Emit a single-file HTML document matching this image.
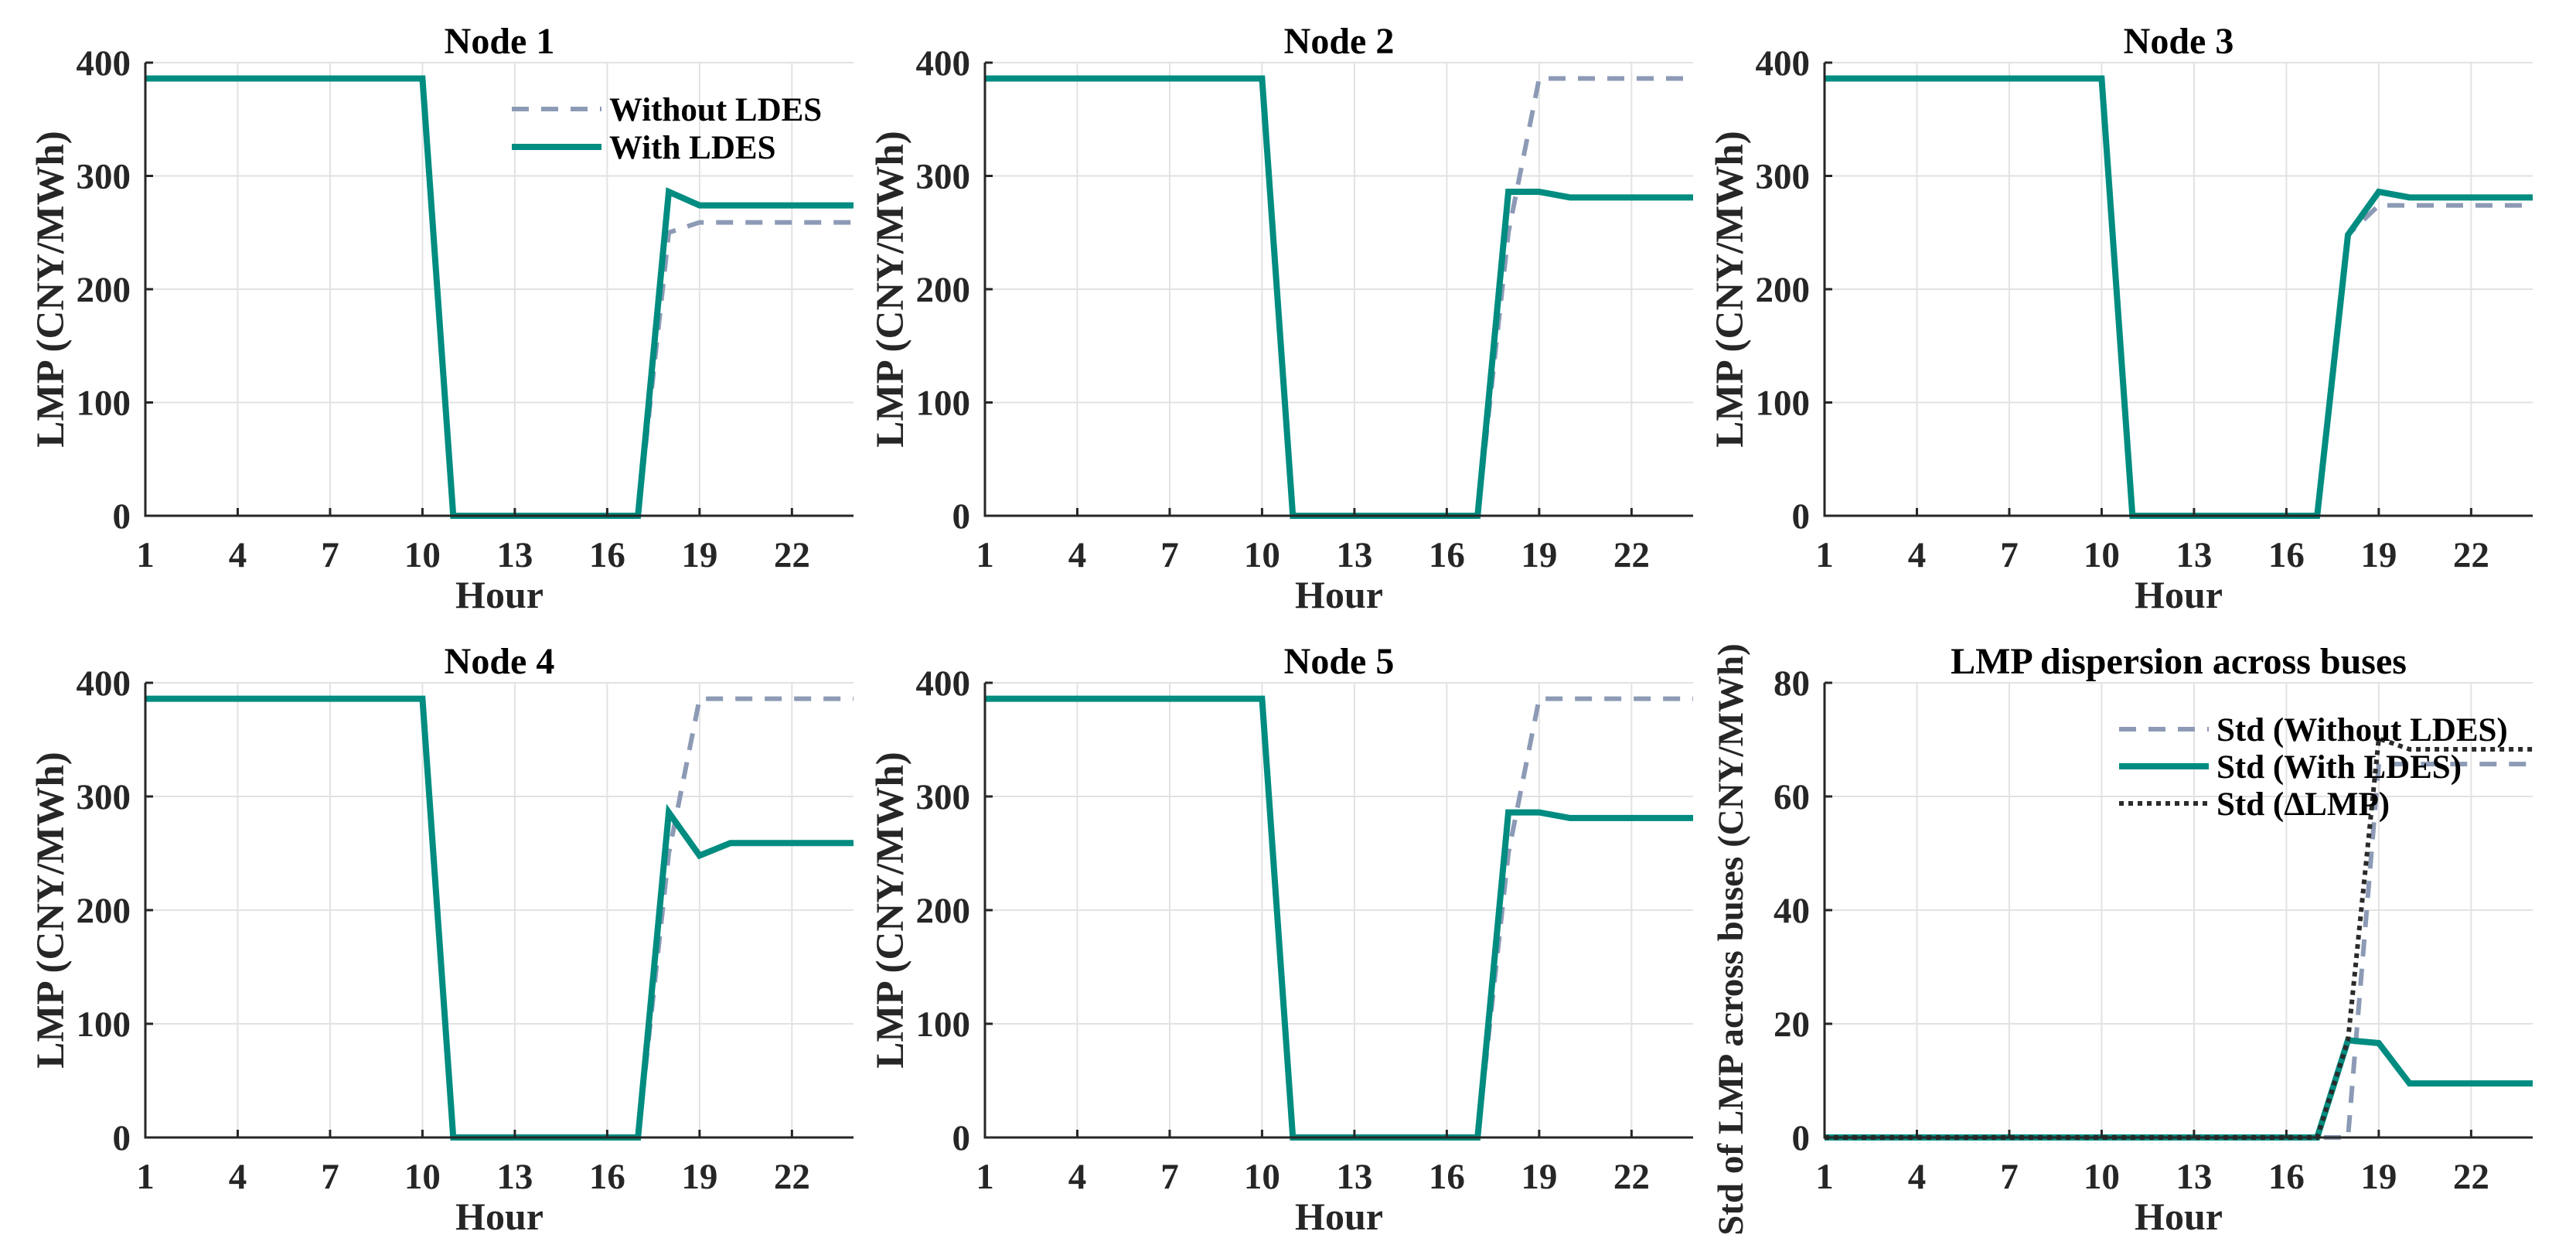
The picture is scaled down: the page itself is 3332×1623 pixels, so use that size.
<!DOCTYPE html>
<html><head><meta charset="utf-8">
<style>
html,body{margin:0;padding:0;background:#fff;}
svg{display:block;font-family:"Liberation Serif",serif;font-weight:bold;}
</style></head>
<body>
<svg id="fig" width="3332" height="1623" viewBox="0 0 3332 1623" xmlns="http://www.w3.org/2000/svg"></svg>
<script>
const hours = [1,2,3,4,5,6,7,8,9,10,11,12,13,14,15,16,17,18,19,20,21,22,23,24];
const xTicks = [1,4,7,10,13,16,19,22];
const lmpTicks = [0,100,200,300,400];
const stdTicks = [0,20,40,60,80];
const n1Without = [386,386,386,386,386,386,386,386,386,386,0,0,0,0,0,0,0,250,259,259,259,259,259,259];
const n1With    = [386,386,386,386,386,386,386,386,386,386,0,0,0,0,0,0,0,286,274,274,274,274,274,274];
const n2Without = [386,386,386,386,386,386,386,386,386,386,0,0,0,0,0,0,0,250,386,386,386,386,386,386];
const n2With    = [386,386,386,386,386,386,386,386,386,386,0,0,0,0,0,0,0,286,286,281,281,281,281,281];
const n3Without = [386,386,386,386,386,386,386,386,386,386,0,0,0,0,0,0,0,248,274,274,274,274,274,274];
const n3With    = [386,386,386,386,386,386,386,386,386,386,0,0,0,0,0,0,0,248,286,281,281,281,281,281];
const n4Without = [386,386,386,386,386,386,386,386,386,386,0,0,0,0,0,0,0,250,386,386,386,386,386,386];
const n4With    = [386,386,386,386,386,386,386,386,386,386,0,0,0,0,0,0,0,286,248,259,259,259,259,259];
const n5Without = [386,386,386,386,386,386,386,386,386,386,0,0,0,0,0,0,0,250,386,386,386,386,386,386];
const n5With    = [386,386,386,386,386,386,386,386,386,386,0,0,0,0,0,0,0,286,286,281,281,281,281,281];
const stdWithout = [0,0,0,0,0,0,0,0,0,0,0,0,0,0,0,0,0,0,65.7,65.7,65.7,65.7,65.7,65.7];
const stdWith    = [0,0,0,0,0,0,0,0,0,0,0,0,0,0,0,0,0,17.1,16.6,9.5,9.5,9.5,9.5,9.5];
const stdDelta   = [0,0,0,0,0,0,0,0,0,0,0,0,0,0,0,0,0,17.1,70.2,68.3,68.3,68.3,68.3,68.3];

const NS="http://www.w3.org/2000/svg";
const svg=document.getElementById('fig');
const TEAL="#008C80", GREY="#8C9AB5", DARK="#2B2B2B", AX="#262626";
function mk(tag,parent){const e=document.createElementNS(NS,tag);parent.appendChild(e);return e;}

const cols=[188,1274,2360], rows=[[81,667],[883,1471]], W=916;

function panel(col,row,title,ylab,yTicks,ymax,series,legend,name,ylabSize,ylabCy){
  const L=cols[col],R=L+W,T=rows[row][0],B=rows[row][1];
  const g=mk('g',svg);
  
  
  const sx=h=>L+(h-1)/(23)*(R-L);
  const sy=v=>B-v/ymax*(B-T);
  xTicks.forEach(t=>{const l=mk('line',g);l.setAttribute('x1',sx(t));l.setAttribute('x2',sx(t));l.setAttribute('y1',T);l.setAttribute('y2',B);l.setAttribute('stroke','#e2e2e2');l.setAttribute('stroke-width','2');
    
    });
  yTicks.forEach(t=>{const l=mk('line',g);l.setAttribute('x1',L);l.setAttribute('x2',R);l.setAttribute('y1',sy(t));l.setAttribute('y2',sy(t));l.setAttribute('stroke','#e2e2e2');l.setAttribute('stroke-width','2');
    
    });
  series.forEach(s=>{
    const p=mk('polyline',g);
    p.setAttribute('points',s.data.map((v,i)=>sx(hours[i])+','+sy(v)).join(' '));
    p.setAttribute('fill','none');p.setAttribute('stroke',s.color);p.setAttribute('stroke-width',s.w);
    p.setAttribute('stroke-linejoin','miter');
    if(s.dash)p.setAttribute('stroke-dasharray',s.dash);
    
    
  });
  const ax=mk('path',g);ax.setAttribute('d',`M${L},${T}V${B}H${R}`);ax.setAttribute('fill','none');ax.setAttribute('stroke',AX);ax.setAttribute('stroke-width','3');
  
  
  xTicks.forEach(t=>{const l=mk('line',g);l.setAttribute('x1',sx(t));l.setAttribute('x2',sx(t));l.setAttribute('y1',B);l.setAttribute('y2',B-10);l.setAttribute('stroke',AX);l.setAttribute('stroke-width','3');
    const tx=mk('text',g);tx.textContent=t;tx.setAttribute('x',sx(t));tx.setAttribute('y',B+66);tx.setAttribute('text-anchor','middle');tx.setAttribute('font-size','47');tx.setAttribute('fill',AX);
    
    });
  yTicks.forEach(t=>{const l=mk('line',g);l.setAttribute('x1',L);l.setAttribute('x2',L+10);l.setAttribute('y1',sy(t));l.setAttribute('y2',sy(t));l.setAttribute('stroke',AX);l.setAttribute('stroke-width','3');
    const tx=mk('text',g);tx.textContent=t;tx.setAttribute('x',L-19);tx.setAttribute('y',sy(t)+16);tx.setAttribute('text-anchor','end');tx.setAttribute('font-size','47');tx.setAttribute('fill',AX);
    
    });
  const tt=mk('text',g);tt.textContent=title;tt.setAttribute('x',(L+R)/2);tt.setAttribute('y',T-12);tt.setAttribute('text-anchor','middle');tt.setAttribute('font-size','48');tt.setAttribute('fill','#000');
  
  
  const xl=mk('text',g);xl.textContent='Hour';xl.setAttribute('x',(L+R)/2);xl.setAttribute('y',B+119);xl.setAttribute('text-anchor','middle');xl.setAttribute('font-size','50');xl.setAttribute('fill',AX);
  
  
  const yl=mk('text',g);yl.textContent=ylab;const cx=L-106,cy=ylabCy||(T+B)/2;
  yl.setAttribute('x',cx);yl.setAttribute('y',cy);yl.setAttribute('text-anchor','middle');yl.setAttribute('font-size',ylabSize||51);yl.setAttribute('fill',AX);
  yl.setAttribute('transform',`rotate(-90 ${cx} ${cy})`);
  
  
  if(legend){
    legend.items.forEach((it,i)=>{
      const y=legend.y+i*legend.dy;
      const l=mk('line',g);l.setAttribute('x1',legend.x);l.setAttribute('x2',legend.x+116);l.setAttribute('y1',y);l.setAttribute('y2',y);
      l.setAttribute('stroke',it.color);l.setAttribute('stroke-width',it.w);if(it.dash)l.setAttribute('stroke-dasharray',it.dash);
      
      
      const tx=mk('text',g);tx.textContent=it.label;tx.setAttribute('x',legend.x+126);tx.setAttribute('y',y+15);tx.setAttribute('font-size','43');tx.setAttribute('fill','#000');
      
      
    });
  }
}
const wo={color:GREY,w:6,dash:'22 16',name:'without-ldes-line'};
const wi={color:TEAL,w:8,name:'with-ldes-line'};
const nodeLeg={x:662,y:141,dy:49,items:[{color:GREY,w:6,dash:'22 16',label:'Without LDES'},{color:TEAL,w:8,label:'With LDES'}]};
const ylab='LMP (CNY/MWh)';
panel(0,0,'Node 1',ylab,lmpTicks,400,[Object.assign({data:n1Without},wo),Object.assign({data:n1With},wi)],nodeLeg,'node-1-panel');
panel(1,0,'Node 2',ylab,lmpTicks,400,[Object.assign({data:n2Without},wo),Object.assign({data:n2With},wi)],null,'node-2-panel');
panel(2,0,'Node 3',ylab,lmpTicks,400,[Object.assign({data:n3Without},wo),Object.assign({data:n3With},wi)],null,'node-3-panel');
panel(0,1,'Node 4',ylab,lmpTicks,400,[Object.assign({data:n4Without},wo),Object.assign({data:n4With},wi)],null,'node-4-panel');
panel(1,1,'Node 5',ylab,lmpTicks,400,[Object.assign({data:n5Without},wo),Object.assign({data:n5With},wi)],null,'node-5-panel');
panel(2,1,'LMP dispersion across buses','Std of LMP across buses (CNY/MWh)',stdTicks,80,[
  {data:stdWithout,color:GREY,w:6,dash:'22 16',name:'std-without-ldes-line'},
  {data:stdWith,color:TEAL,w:8,name:'std-with-ldes-line'},
  {data:stdDelta,color:DARK,w:6,dash:'6 6',name:'std-delta-lmp-line'}],
  {x:2741,y:943,dy:48,items:[{color:GREY,w:6,dash:'22 16',label:'Std (Without LDES)'},{color:TEAL,w:8,label:'Std (With LDES)'},{color:DARK,w:6,dash:'6 6',label:'Std (\u0394LMP)'}]},'dispersion-panel',47,1215);
</script>
</body></html>
